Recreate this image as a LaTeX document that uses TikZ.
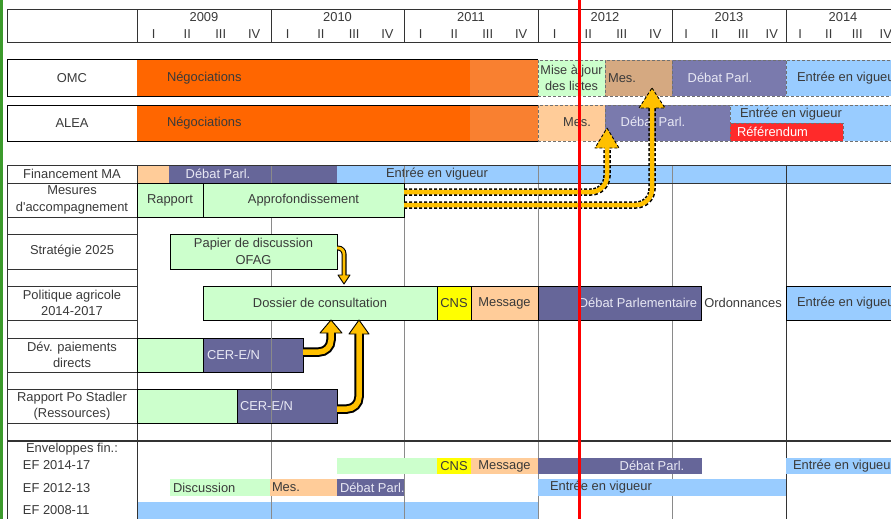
\documentclass[tikz,border=0pt]{standalone}
\usepackage{fontspec}
\setmainfont{Liberation Sans}
\usetikzlibrary{positioning}

\definecolor{corange}{HTML}{FF6600}
\definecolor{corange2}{HTML}{F98030}
\definecolor{cgreen}{HTML}{CCFFCC}
\definecolor{cpeach}{HTML}{FFCC99}
\definecolor{ctan}{HTML}{D5A981}
\definecolor{cpurple}{HTML}{666699}
\definecolor{cpurple2}{HTML}{7A7AAD}
\definecolor{cblue}{HTML}{99CCFF}
\definecolor{cyellow}{HTML}{FFFF00}
\definecolor{cred}{HTML}{FF2A2A}
\definecolor{carrow}{HTML}{FFC000}
\definecolor{tgray}{HTML}{3A3A3A}
\definecolor{tlight}{HTML}{E8E8F4}
\definecolor{dgray}{HTML}{707070}
\definecolor{lgray}{HTML}{8A8A8A}
\definecolor{cframe}{HTML}{3C9A2C}
\definecolor{credline}{HTML}{FF0000}

\begin{document}
\begin{tikzpicture}[x=1pt, y=-1pt,
    every node/.style={font=\fontsize{12.9}{16.5}\selectfont, text=tgray, inner sep=0pt, outer sep=0pt},
    cell/.style 2 args={anchor=north west, minimum width=#1pt, minimum height=#2pt},
    box/.style={draw=black, line width=1pt},
    dbox/.style={draw=dgray, line width=0.8pt, dash pattern=on 3pt off 2pt},
    gline/.style={draw=lgray, line width=0.9pt},
    dline/.style={draw=black!80, line width=1pt},
    light/.style={text=tlight},
    txt/.style={anchor=west},
    bandout/.style={draw=black, line width=#1},
    bandin/.style={draw=carrow, line width=#1},
    head/.style={fill=carrow, draw=black, line width=0.9pt, line join=round},
    dashband/.style={dash pattern=on 3pt off 2pt},
]
\useasboundingbox (0,0) rectangle (891,519);
\clip (0,0) rectangle (891,519);
\fill[white] (0,0) rectangle (891,519);

% header
\draw[dline] (7,10) rectangle (900,43);
\foreach \x in {137,271,404,538,672,786} \draw[dline] (\x,10) -- (\x,43);
\foreach \yr/\a/\w in {2009/137/134, 2010/271/133, 2011/404/134, 2012/538/134, 2013/672/114, 2014/786/114} {
    \node (y\yr) at (\a+\w/2, 17) {\yr};
    \foreach \q [count=\k] in {I,II,III,IV}
        \node (q\yr-\k) at (\a+\w*\k/4-\w/8, 34) {\q};
}

% OMC
\node[cell={130}{36}, box] (omc) at (7,60) {OMC};
\node[cell={333}{36}, fill=corange] (omcneg) at (137,60) {};
\node[cell={68}{36}, fill=corange2] (omcneg2) at (470,60) {};
\draw[box] (omc.north east) -- (omcneg2.north east) (omc.south east) -- (omcneg2.south east);
\node[txt, right=30pt of omcneg.west] (omcnegt) {Négociations};
\node[cell={67}{36}, dbox, fill=cgreen, align=center, font=\fontsize{12.7}{16}\selectfont] (omcmaj) at (538,60) {Mise à jour\\des listes};
\node[cell={67}{36}, dbox, fill=ctan] (omcmes) at (605,60) {};
\node[txt, right=3pt of omcmes.west] (omcmest) {Mes.};
\node[cell={114}{36}, dbox, fill=cpurple2] (omcdeb) at (672,60) {};
\node[light] (omcdebt) at (720,78) {Débat Parl.};
\node[cell={114}{36}, dbox, fill=cblue] (omcev) at (786,60) {};
\node[txt, right=11pt of omcev.west] (omcevt) {Entrée en vigueur};

% ALEA
\node[cell={130}{36}, box] (alea) at (7,105) {ALEA};
\node[cell={333}{36}, fill=corange] (aleaneg) at (137,105) {};
\node[cell={68}{36}, fill=corange2] (aleaneg2) at (470,105) {};
\draw[box] (alea.north east) -- (aleaneg2.north east) (alea.south east) -- (aleaneg2.south east);
\node[txt, right=30pt of aleaneg.west] (aleanegt) {Négociations};
\node[cell={67}{36}, dbox, fill=cpeach] (aleames) at (538,105) {};
\node (aleamest) at (577,122) {Mes.};
\node[cell={125}{36}, dbox, fill=cpurple2] (aleadeb) at (605,105) {};
\node[light] (aleadebt) at (653,122) {Débat Parl.};
\node[cell={161}{36}, dbox, fill=cblue] (aleaev) at (730,105) {};
\node[txt] (aleaevt) at (740,114) {Entrée en vigueur};
\node[cell={113}{18}, dbox, fill=cred] (alearef) at (730,123) {};
\node[txt, text=white] (aleareft) at (737,131.5) {Référendum};

% Financement MA
\node (finlab) at (72,174) {Financement MA};
\node[cell={32}{18}, fill=cpeach] (finmes) at (137,165) {};
\node[cell={168}{18}, fill=cpurple] (findeb) at (169,165) {};
\node[light] (findebt) at (218,174) {Débat Parl.};
\node[cell={554}{18}, fill=cblue] (finev) at (337,165) {};
\node (finevt) at (437,174) {Entrée en vigueur};
\node[cell={401}{18}, fill=cblue] (ef08ev) at (137,502) {};

% grid
\foreach \x in {271,404,538,672} \draw[gline] (\x,165) -- (\x,519);
\draw[dline] (7,165) -- (7,519) (137,165) -- (137,519) (786,165) -- (786,519);
\draw[dline] (7,165) -- (891,165) (7,183) -- (891,183);
\draw[dline, line width=1.4pt] (7,441) -- (891,441);
\foreach \y in {217,234,269,286,320,338,372,389,423} \draw[dline] (7,\y) -- (137,\y);

% Mesures d'accompagnement
\node[align=center] (meslab) at (72,200) {Mesures\\d\textquotesingle accompagnement};
\node[cell={66}{34}, box, fill=cgreen] (rapport) at (137,183) {Rapport};
\node[cell={201}{34}, box, fill=cgreen] (approf) at (203,183) {Approfondissement};

% Strategie 2025
\node (strlab) at (72,251) {Stratégie 2025};
\node[cell={167}{35}, box, fill=cgreen, align=center] (papier) at (170,234) {Papier de discussion\\OFAG};

% Politique agricole
\node[align=center] (polab) at (72,303) {Politique agricole\\2014-2017};
\node[cell={234}{34}, box, fill=cgreen] (dossier) at (203,286) {Dossier de consultation};
\node[cell={34}{34}, box, fill=cyellow] (pacns) at (437,286) {CNS};
\node[cell={67}{34}, box, fill=cpeach] (pamsg) at (471,286) {Message};
\node[cell={163}{34}, box, fill=cpurple] (padeb) at (538,286) {};
\node[light] (padebt) at (638,303) {Débat Parlementaire};
\node (paord) at (743,303) {Ordonnances};
\node[cell={110}{34}, box, fill=cblue] (paev) at (786,286) {};
\node[txt, right=11pt of paev.west] (paevt) {Entrée en vigueur};

% Dev. paiements directs
\node[align=center] (devlab) at (72,355) {Dév. paiements\\directs};
\node[cell={66}{34}, box, fill=cgreen] (devrap) at (137,338) {};
\node[cell={100}{34}, box, fill=cpurple] (devcer) at (203,338) {};
\node[txt, light, right=4pt of devcer.west] (devcert) {CER-E/N};

% Rapport Po Stadler
\node[align=center] (stalab) at (72,406) {Rapport Po Stadler\\(Ressources)};
\node[cell={100}{34}, box, fill=cgreen] (starap) at (137,389) {};
\node[cell={100}{34}, box, fill=cpurple] (stacer) at (237,389) {};
\node[txt, light, right=3pt of stacer.west] (stacert) {CER-E/N};
\draw[gline] (271,338) -- (271,372) (271,389) -- (271,423);

% Enveloppes fin.
\node (envlab) at (72,449) {Enveloppes fin.:};
\node[txt] (ef14) at (23,465) {EF 2014-17};
\node[txt] (ef12) at (23,488) {EF 2012-13};
\node[txt] (ef08) at (23,510) {EF 2008-11};

\node[cell={100}{16}, fill=cgreen] (ef14dos) at (337,458) {};
\node[cell={34}{16}, fill=cyellow] (ef14cns) at (437,458) {CNS};
\node[cell={67}{16}, fill=cpeach] (ef14msg) at (471,458) {Message};
\node[cell={164}{16}, fill=cpurple] (ef14deb) at (538,458) {};
\node[light] (ef14debt) at (652,466) {Débat Parl.};
\node[cell={110}{16}, fill=cblue] (ef14ev) at (786,458) {};
\node[txt, right=7pt of ef14ev.west] (ef14evt) {Entrée en vigueur};

\node[cell={100}{17}, fill=cgreen] (ef12disc) at (170,479) {};
\node[txt, right=3pt of ef12disc.west] (ef12disct) {Discussion};
\node[cell={67}{17}, fill=cpeach] (ef12mes) at (270,479) {};
\node[txt, right=2pt of ef12mes.west] (ef12mest) {Mes.};
\node[cell={67}{17}, fill=cpurple] (ef12deb) at (337,479) {};
\node[txt, light, right=3pt of ef12deb.west] (ef12debt) {Débat Parl.};
\node[cell={248}{17}, fill=cblue] (ef12ev) at (538,479) {};
\node[txt, right=12pt of ef12ev.west] (ef12evt) {Entrée en vigueur};

% arrows
\coordinate (t1) at ([xshift=2pt,yshift=13pt]aleadeb.south west);
\coordinate (t2) at ([xshift=47pt,yshift=8pt]omcmes.south west);
\draw[bandout=7.5pt, dashband, rounded corners=16pt] ([yshift=8pt]approf.east) -| ([yshift=-20pt]t1);
\filldraw[head, dashband] (t1) -- ++(12,20) -- ++(-24,0) -- cycle;
\draw[bandin=4.5pt, rounded corners=16pt] ([yshift=8pt]approf.east) -| ([yshift=-18pt]t1);
\draw[bandout=7.5pt, dashband, rounded corners=16pt] ([yshift=-5pt]approf.east) -| ([yshift=-20pt]t2);
\filldraw[head, dashband] (t2) -- ++(13,20) -- ++(-26,0) -- cycle;
\draw[bandin=4.5pt, rounded corners=16pt] ([yshift=-5pt]approf.east) -| ([yshift=-18pt]t2);

\coordinate (tp) at ([xshift=141pt,yshift=2pt]dossier.north west);
\draw[bandout=5pt, rounded corners=6pt] ([yshift=3.5pt]papier.east) -| ([yshift=9pt]tp);
\filldraw[head] (tp) -- ++(6,-9) -- ++(-12,0) -- cycle;
\draw[bandin=2.8pt, rounded corners=6pt] ([yshift=3.5pt]papier.east) -| ([yshift=7.5pt]tp);

\coordinate (td) at ([xshift=128pt]dossier.south west);
\draw[bandout=9.5pt, rounded corners=12pt] ([yshift=3pt]devcer.east) -| ([yshift=-13pt]td);
\filldraw[head] (td) -- ++(11,13) -- ++(-22,0) -- cycle;
\draw[bandin=5.5pt, rounded corners=12pt] ([yshift=3pt]devcer.east) -| ([yshift=-11pt]td);

\coordinate (ts) at ([xshift=156pt]dossier.south west);
\draw[bandout=9.5pt, rounded corners=12pt] ([yshift=-3pt]stacer.east) -| ([yshift=-14pt]ts);
\filldraw[head] (ts) -- ++(10,14) -- ++(-20,0) -- cycle;
\draw[bandin=5.5pt, rounded corners=12pt] ([yshift=-3pt]stacer.east) -| ([yshift=-12pt]ts);

% frame and today line
\draw[cframe, line width=2.5pt] (1.25,0) -- (1.25,519);
\draw[credline, line width=3pt] (579,0) -- (579,519);
\end{tikzpicture}
\end{document}
